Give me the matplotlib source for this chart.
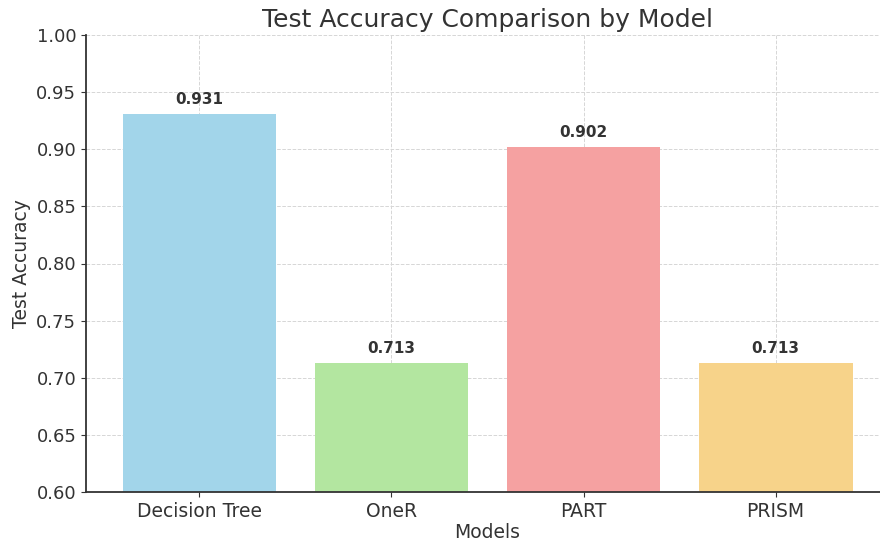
import matplotlib
matplotlib.use("Agg")
import matplotlib.pyplot as plt

models = ["Decision Tree", "OneR", "PART", "PRISM"]
accuracy = [0.931, 0.713, 0.902, 0.713]
colors = ["#a2d5ea", "#b3e6a0", "#f5a1a1", "#f7d38a"]

fig = plt.figure(figsize=(8.8, 5.43), dpi=100)
ax = fig.add_axes([86/880, 51/543, (889-86)/880, 457/543])
bars = ax.bar(models, accuracy, color=colors, width=0.8, zorder=2)
ax.grid(True, linestyle="--", color="#d6d6d6", linewidth=0.7, zorder=3)
for b, v in zip(bars, accuracy):
    ax.text(b.get_x() + b.get_width()/2, v + 0.006, f"{v:.3f}", ha="center", va="bottom",
            fontsize=11, fontweight="bold", color="#333333", zorder=4)
ax.set_ylim(0.6, 1.0)
ax.set_xlim(-0.59, 3.59)
ax.set_yticks([0.60, 0.65, 0.70, 0.75, 0.80, 0.85, 0.90, 0.95, 1.00])
ax.set_yticklabels([f"{t:.2f}" for t in ax.get_yticks()])
for s in ["top", "right"]:
    ax.spines[s].set_visible(False)
for s in ["left", "bottom"]:
    ax.spines[s].set_color("#333333")
    ax.spines[s].set_linewidth(1.3)
ax.tick_params(axis="x", labelsize=13.5, colors="#333333")
ax.tick_params(axis="y", labelsize=13, colors="#333333")
ax.set_title("Test Accuracy Comparison by Model", fontsize=18, color="#333333", pad=6)
ax.set_xlabel("Models", fontsize=13.5, color="#333333", labelpad=2)
ax.set_ylabel("Test Accuracy", fontsize=13.5, color="#333333")
fig.savefig("out.png", dpi=100)
